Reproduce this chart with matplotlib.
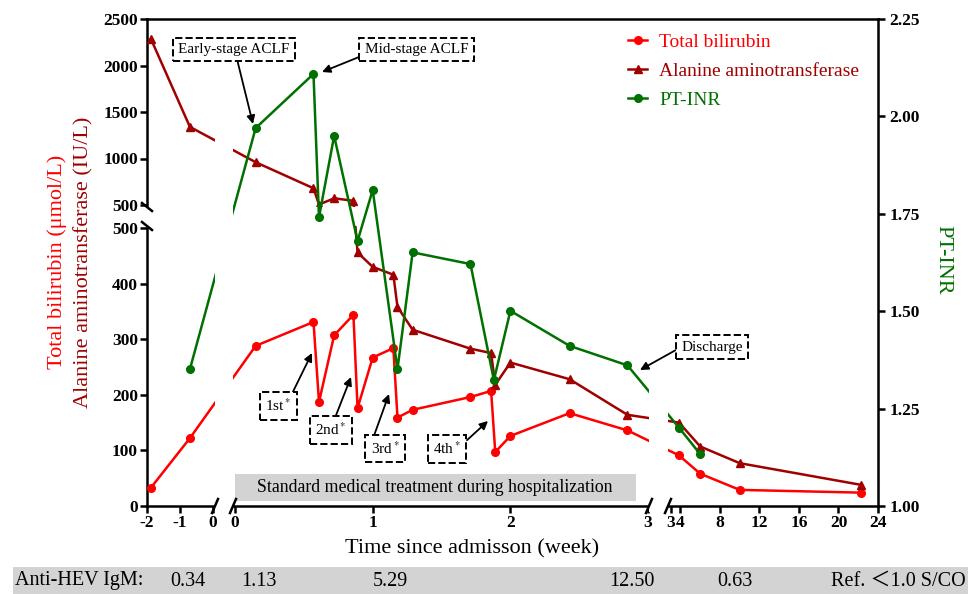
import numpy as np
import matplotlib
matplotlib.use("Agg")
import matplotlib.pyplot as plt
import matplotlib.transforms as mtransforms
from matplotlib.patches import Rectangle

plt.rcParams['font.family'] = ['Liberation Serif', 'Noto Sans CJK SC']
plt.rcParams['mathtext.fontset'] = 'stix'

# weeks since admission
weeks = [-1.88, -0.70, 0.15, 0.57, 0.61, 0.72, 0.86, 0.89, 1.00, 1.15, 1.18, 1.29,
         1.71, 1.86, 1.89, 2.00, 2.43, 2.85, 3.85, 6.0, 10.0, 22.3]
tbil = [33, 122, 288, 331, 187, 307, 344, 176, 267, 284, 159, 173,
        196, 207, 97, 126, 167, 136, 91, 58, 29, 24]
alt = [2285, 1340, 960, 680, 505, 572, 545, 456, 430, 416, 358, 317,
       283, 275, 218, 258, 228, 164, 150, 107, 77, 38]
inr_weeks = [-0.70, 0.15, 0.57, 0.61, 0.72, 0.89, 1.00, 1.18, 1.29, 1.71, 1.88,
             2.00, 2.43, 2.85, 3.85, 6.0]
inr = [1.351, 1.970, 2.109, 1.741, 1.950, 1.680, 1.811, 1.351, 1.651, 1.621, 1.323,
       1.501, 1.411, 1.361, 1.201, 1.133]

hev_weeks = [-0.75, 0.17, 1.13, 2.88, 9.5]
hev_vals = ['0.34', '1.13', '5.29', '12.50', '0.63']

xticks = [-2, -1, 0, 1e-6, 1, 2, 3, 3 + 1e-6, 4, 8, 12, 16, 20, 24]
xticklabels = ['-2', '-1', '0', '0', '1', '2', '3', '3', '4', '8', '12', '16', '20', '24']
yticks = [0, 100, 200, 300, 400, 500, 500.001, 1000, 1500, 2000, 2500]
yticklabels = ['0', '100', '200', '300', '400', '500', '500', '1000', '1500', '2000', '2500']
inr_ticks = [1.00, 1.25, 1.50, 1.75, 2.00, 2.25]

RED = '#ff0000'
DRED = '#a00000'
GREEN = '#007000'


# broken x axis: [-2,0] | [0,3] | [3,24]
def fwd_x(w):
    w = np.asarray(w, dtype=float)
    return np.where(w <= 0, (w + 2) * 33.0,
                    np.where(w <= 3, 88 + w * 137.7, 533.5 + (w - 4) * 9.875))


def inv_x(u):
    u = np.asarray(u, dtype=float)
    return np.where(u <= 66, u / 33.0 - 2,
                    np.where(u < 88, 0.0,
                             np.where(u <= 501.1, (u - 88) / 137.7,
                                      np.where(u < 523.625, 3.0, 4 + (u - 533.5) / 9.875))))


# broken left y axis: [0,500] | [500,2500]
def fwd_y(v):
    v = np.asarray(v, dtype=float)
    return np.where(v <= 500, v * 0.556, 301 + (v - 500) * 0.093)


def inv_y(u):
    u = np.asarray(u, dtype=float)
    return np.where(u <= 278, u / 0.556,
                    np.where(u < 301, 500.0, 500 + (u - 301) / 0.093))


W, H = 968, 594
fig = plt.figure(figsize=(W / 100, H / 100), dpi=100)
ax = fig.add_axes([147 / W, 1 - 506 / H, (878 - 147) / W, (506 - 19) / H])
ax.set_xscale('function', functions=(fwd_x, inv_x))
ax.set_yscale('function', functions=(fwd_y, inv_y))
ax2 = ax.twinx()

l1, = ax.plot(weeks, tbil, '-o', color=RED, lw=1.8, ms=5.5, label='Total bilirubin', zorder=3)
l2, = ax.plot(weeks, alt, '-^', color=DRED, lw=1.8, ms=5.5, label='Alanine aminotransferase', zorder=3)
l3, = ax2.plot(inr_weeks, inr, '-o', color=GREEN, lw=1.8, ms=5.5, label='PT-INR', zorder=3)

ax.set_xlim(-2, 24)
ax.set_ylim(0, 2500)
ax2.set_ylim(1.0, 2.25)

ax.set_xticks(xticks, labels=xticklabels, fontweight='bold', fontsize=12.5)
ax.set_yticks(yticks, labels=yticklabels, fontweight='bold', fontsize=12.5)
ax2.set_yticks(inr_ticks, labels=['%.2f' % t for t in inr_ticks], fontweight='bold', fontsize=12.5)
ax.tick_params(axis='both', direction='out', length=5, width=1.8, pad=1.5)
ax2.tick_params(axis='y', direction='out', length=5, width=1.8, pad=3)

for s in ['left', 'bottom', 'top']:
    ax.spines[s].set_linewidth(1.8)
ax.spines['right'].set_visible(False)
for s in ['left', 'bottom', 'top']:
    ax2.spines[s].set_visible(False)
ax2.spines['right'].set_linewidth(1.8)

# gaps of the broken axes
for u0, u1 in [(68, 86), (502, 521)]:
    ax2.add_patch(Rectangle((u0 / 731, -0.012), (u1 - u0) / 731, 1.0, transform=ax2.transAxes,
                            fc='white', ec='none', zorder=10, clip_on=False))
    for u in (u0, u1):
        ax2.plot([(u - 3) / 731, (u + 3) / 731], [-7 / 487, 7 / 487], transform=ax2.transAxes,
                 color='k', lw=1.8, clip_on=False, zorder=11)
ax.add_patch(Rectangle((-0.005, 280 / 487), 1.005, 19 / 487, transform=ax.transAxes,
                       fc='white', ec='none', zorder=10, clip_on=False))
for u in (280, 299):
    ax2.plot([-5 / 731, 5 / 731], [(u + 4) / 487, (u - 4) / 487], transform=ax2.transAxes,
             color='k', lw=1.8, clip_on=False, zorder=11)
ax2.set_ylim(1.0, 2.25)


def fp(x, y):
    return (x / W, 1 - y / H)


# treatment band
ax.add_patch(Rectangle(fp(235, 501), (636 - 235) / W, 27 / H, transform=fig.transFigure,
                       fc='#d3d3d3', ec='none', zorder=1))
ax.text(*fp(435, 488), 'Standard medical treatment during hospitalization', transform=fig.transFigure,
        ha='center', va='center', fontsize=12.8, zorder=1.5)

# annotations
notes = [
    ('Early-stage ACLF', (234, 49.5), (253, 124), (0.52, 0)),
    ('Mid-stage ACLF', (416.5, 49.5), (322, 72), (0, 0.1)),
    ('1st$^*$', (278.5, 406), (312, 353), (0.94, 1)),
    ('2nd$^*$', (331, 430), (351, 377), (0.58, 1)),
    ('3rd$^*$', (385, 448.5), (389, 394), (0.06, 1)),
    ('4th$^*$', (447, 449), (488, 421), (1, 0.7)),
    ('Discharge', (712, 347), (640, 370), (0, 0.5)),
]
for txt, c, tip, rp in notes:
    ax2.annotate(txt, xy=fp(*tip), xycoords='figure fraction', xytext=fp(*c),
                 textcoords='figure fraction', ha='center', va='center', fontsize=11, zorder=12,
                 bbox=dict(boxstyle='square,pad=0.35', fc='white', ec='k', ls='--', lw=1.4),
                 arrowprops=dict(arrowstyle='-|>', color='k', lw=1.3, mutation_scale=12,
                                 shrinkA=0, shrinkB=0, relpos=rp))

leg = ax2.legend(handles=[l1, l2, l3], loc='upper left', bbox_to_anchor=fp(628, 33),
                 bbox_transform=fig.transFigure, frameon=False, fontsize=14, handlelength=1.0,
                 handletextpad=0.6, labelspacing=0.6, borderpad=0, borderaxespad=0,
                 labelcolor='linecolor')
leg.set_zorder(12)

# axis titles
fig.text(*fp(472, 549), 'Time since admisson (week)', ha='center', va='center', fontsize=16)
fig.text(*fp(57, 262), 'Total bilirubin (\u03bcmol/L)', ha='center', va='center', fontsize=16,
         rotation=90, color=RED)
fig.text(*fp(84, 262), 'Alanine aminotransferase (IU/L)', ha='center', va='center', fontsize=16,
         rotation=90, color=DRED)
fig.text(*fp(943, 260), 'PT-INR', ha='center', va='center', fontsize=16, rotation=270, color=GREEN)

# anti-HEV IgM row
fig.add_artist(Rectangle(fp(13, 594), (W - 13) / W, 27 / H, transform=fig.transFigure,
                         fc='#d3d3d3', ec='none'))
fig.text(*fp(15, 581), 'Anti-HEV IgM:', ha='left', va='center', fontsize=14.5)
row = mtransforms.blended_transform_factory(ax.transData, fig.transFigure)
for wk, val in zip(hev_weeks, hev_vals):
    fig.text(wk, 1 - 581 / H, val, transform=row, ha='center', va='center', fontsize=14.5)
fig.text(*fp(966, 581), 'Ref. \uff1c1.0 S/CO', ha='right', va='center', fontsize=14.5)

fig.savefig('out.png', dpi=100)
